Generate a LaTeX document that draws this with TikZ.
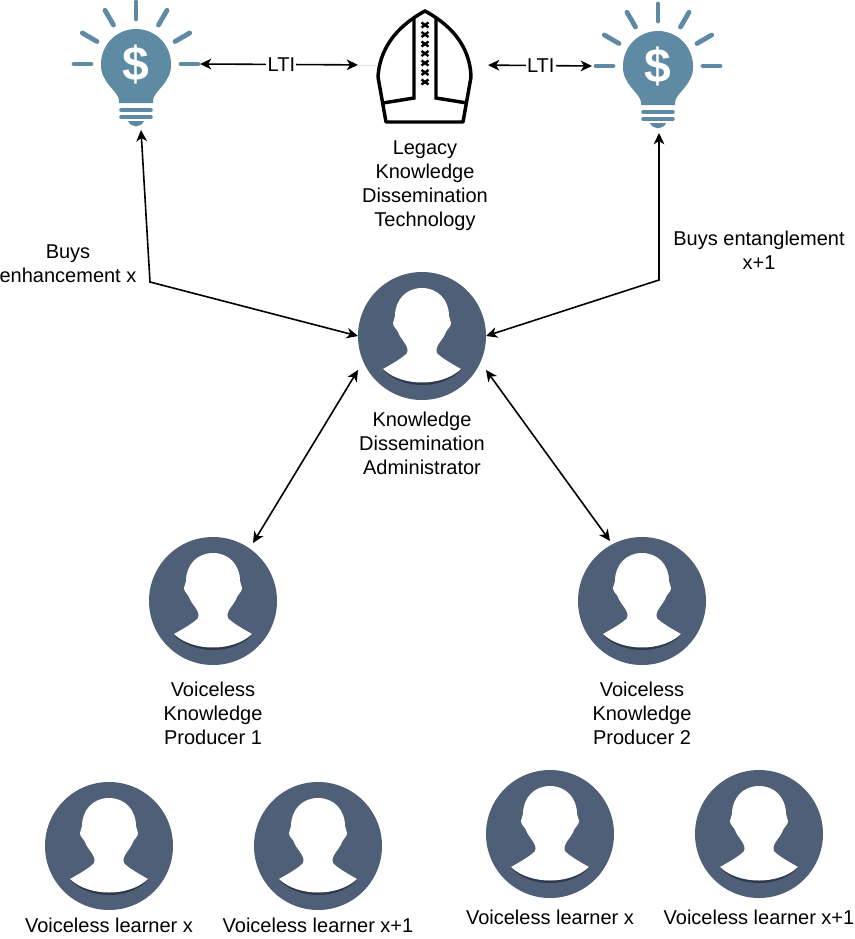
\documentclass[tikz,border=0pt]{standalone}
\usepackage{fontspec}
\setmainfont{Liberation Sans}
\usetikzlibrary{arrows.meta, calc, positioning}
\definecolor{slateblue}{HTML}{4F5F78}
\definecolor{bulbblue}{HTML}{5F8AA3}
\tikzset{
	personnode/.style={circle, fill=slateblue, inner sep=0pt, outer sep=0pt, minimum size=96pt,
		path picture={
			\begin{scope}[shift={(path picture bounding box.center)}]
				\fill [black!40!slateblue] (-39,34) .. controls (-20,54) and (20,54) .. (39,34) -- (39,33) -- (-39,33) -- cycle;
				\fill [white] (0,-48) .. controls (-16,-48) and (-27,-36) .. (-27,-20) .. controls (-27,-17) and (-29,-16) .. (-29,-13)
					.. controls (-29,-9) and (-25,-7) .. (-24,-4) .. controls (-22,3) and (-12,10) .. (-15,17)
					.. controls (-18,21) and (-30,28) .. (-39,33)
					.. controls (-20,51) and (20,51) .. (39,33) .. controls (30,28) and (18,21) .. (15,17)
					.. controls (12,10) and (22,3) .. (24,-4) .. controls (25,-7) and (29,-9) .. (29,-13)
					.. controls (29,-16) and (27,-17) .. (27,-20)
					.. controls (27,-36) and (16,-48) .. (0,-48) -- cycle;
			\end{scope}
		}},
	textlabel/.style={align=center, font=\fontsize{15}{18}\selectfont},
	bulbnode/.style={minimum width=96pt, minimum height=96pt, inner sep=0pt, outer sep=0pt},
	ray/.style={bulbblue, line width=3.6pt, line cap=round},
	base/.style={bulbblue, line width=3.5pt, line cap=round},
	link/.style={line width=1.2pt, {Stealth[length=8.5pt, width=8pt, inset=2.5pt]}-{Stealth[length=8.5pt, width=8pt, inset=2.5pt]}},
	bulb/.pic={
		\foreach \a in {0,30,60,90,120,150,180}
			\draw [ray] (-\a:45) -- (-\a:62);
		\fill [bulbblue] (-17,39) -- (17,39) -- (17,36) .. controls (18,27) and (36,18) .. (35,0)
			arc (0:-180:35) .. controls (-36,18) and (-18,27) .. (-17,36) -- cycle;
		\node [white, font=\bfseries\fontsize{36}{36}\selectfont] at (0,0) {\$};
		\draw [base] (-14.5,46) -- (14.5,46);
		\draw [base] (-14.5,53) -- (14.5,53);
		\fill [bulbblue] (-8,57) .. controls (-5,64) and (5,64) .. (8,57) -- cycle;
	},
	mitre/.pic={
		\draw [line width=2.6pt, line join=round] (0,-54) .. controls (-22,-42) and (-45,-22) .. (-47,12)
			-- (-39,57) -- (38,57) -- (46,12) .. controls (45,-22) and (22,-42) .. (0,-54) -- cycle;
		\draw [line width=2.6pt] (-11,-46) -- (-11,33) -- (-42,38);
		\draw [line width=2.6pt] (11,-46) -- (11,33) -- (42,38);
		\foreach \i in {0,...,6}
			\draw [line width=1.8pt] (-3.5,{-40+\i*9.5-2.5}) -- (3.5,{-40+\i*9.5+2.5}) (3.5,{-40+\i*9.5-2.5}) -- (-3.5,{-40+\i*9.5+2.5});
	},
}
\begin{document}
\begin{tikzpicture}[x=0.75pt, y=-0.75pt]
	\useasboundingbox (0,0) rectangle (855,939);

	% top row
	\node [bulbnode] (bulbleft) at (136,64) {};
	\node [bulbnode] (bulbright) at (658,66) {};
	\pic at (136,64) {bulb};
	\pic at (658,66) {bulb};
	\node [minimum width=72pt, minimum height=87pt, inner sep=0pt, outer sep=0pt] (mitrenode) at (425,65) {};
	\pic at (425,65) {mitre};
	\node [textlabel, below=9.5pt of mitrenode] (legacy) {Legacy\\Knowledge\\Dissemination\\Technology};

	% people
	\node [personnode] (admin) at (422,336) {};
	\node [textlabel, below=5.5pt of admin] (adminlabel) {Knowledge\\Dissemination\\Administrator};
	\node [personnode] (prodone) at (213,601) {};
	\node [textlabel, below=9pt of prodone] (prodonelabel) {Voiceless\\Knowledge\\Producer 1};
	\node [personnode] (prodtwo) at (642,601) {};
	\node [textlabel, below=9pt of prodtwo] (prodtwolabel) {Voiceless\\Knowledge\\Producer 2};
	\node [personnode] (learnera) at (109,846) {};
	\node [textlabel, below=2.5pt of learnera] (learneralabel) {Voiceless learner x};
	\node [personnode] (learnerb) at (318,846) {};
	\node [textlabel, below=2.5pt of learnerb] (learnerblabel) {Voiceless learner x+1};
	\node [personnode] (learnerc) at (550,834) {};
	\node [textlabel, below=5.5pt of learnerc] (learnerclabel) {Voiceless learner x};
	\node [personnode] (learnerd) at (759,834) {};
	\node [textlabel, below=5.5pt of learnerd] (learnerdlabel) {Voiceless learner x+1};

	% connectors
	\coordinate (kneeleft) at (150,282);
	\coordinate (kneeright) at (659,280);
	\coordinate (adminsw) at ($(admin)+(-64,34)$);
	\coordinate (adminse) at ($(admin)+(64,34)$);
	\draw [link] ([shift={(5,2)}]bulbleft.south) -- (kneeleft) -- (admin.west);
	\draw [link] ([shift={(1,3)}]bulbright.south) -- (kneeright) -- (admin.east);
	\draw [link, shorten >=14.25pt] (bulbleft.east) -- (mitrenode.west) node [pos=0.46, fill=white, inner xsep=1pt, inner ysep=0pt, textlabel] (ltia) {LTI};
	\draw [link, shorten <=11.25pt, shorten >=1.5pt] (mitrenode.east) -- (bulbright.west) node [pos=0.56, fill=white, inner xsep=1pt, inner ysep=0pt, textlabel] (ltib) {LTI};
	\draw [black!12] ([xshift=-14.25pt]mitrenode.west) -- (mitrenode.west);
	\draw [link] (adminsw) -- ($(prodone)+(40,-58)$);
	\draw [link] (adminse) -- ($(prodtwo)+(-32,-60)$);

	% purchase labels
	\node [textlabel] (buysleft) at (68,264) {Buys\\enhancement x};
	\node [textlabel] (buysright) at (759,250) {Buys entanglement\\x+1};
\end{tikzpicture}
\end{document}
